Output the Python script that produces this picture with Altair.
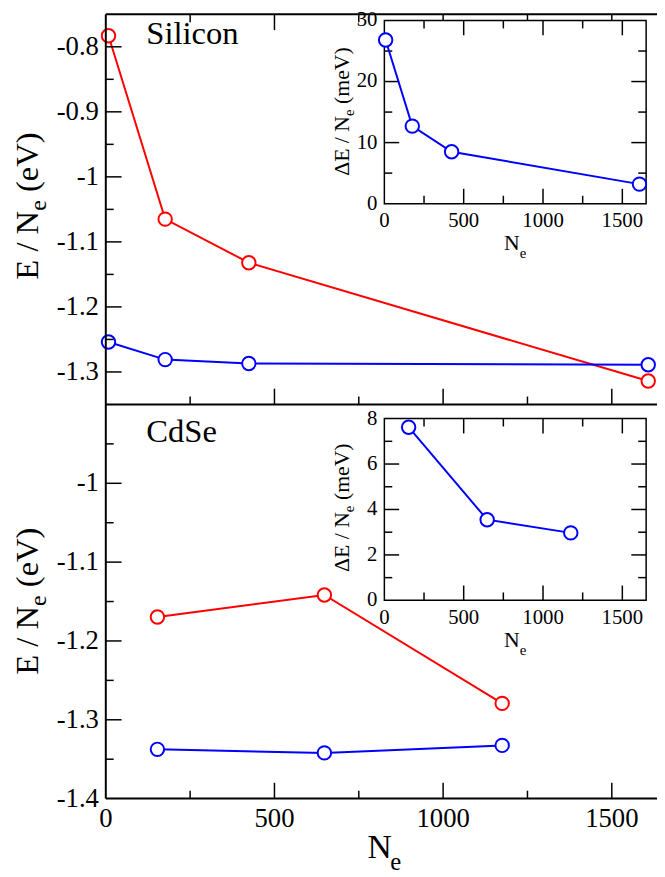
import altair as alt
import pandas as pd

FONT = "Liberation Serif"
RED = "#ff0000"
BLUE = "#0000ff"

# ---------------- data ----------------
si_ne = [8, 176, 424, 1608]
si_red = [-0.783, -1.065, -1.132, -1.314]
si_blue = [-1.254, -1.281, -1.287, -1.289]
si_dE = [26.8, 12.7, 8.5, 3.2]

cdse_ne = [153, 648, 1175]
cdse_red = [-1.1696, -1.1417, -1.2792]
cdse_blue = [-1.3375, -1.342, -1.3325]
cdse_dE = [7.62, 3.55, 2.97]

x_major = [500, 1000, 1500]
x_minor = [250, 750, 1250]
top_y_major = [-0.8, -0.9, -1.0, -1.1, -1.2, -1.3]
top_y_minor = [-0.85, -0.95, -1.05, -1.15, -1.25]
bot_y_major = [-1.0, -1.1, -1.2, -1.3]
bot_y_minor = [-0.95, -1.05, -1.15, -1.25, -1.35]
x_labels = [0, 500, 1000, 1500]
top_y_labels = [-0.8, -0.9, -1.0, -1.1, -1.2, -1.3]
bot_y_labels = [-1.0, -1.1, -1.2, -1.3, -1.4]

ins_x_major = [500, 1000, 1500]
ins_x_minor = [250, 750, 1250]
ins1_y_major = [10, 20]
ins1_y_minor = [5, 15, 25]
ins1_y_labels = [0, 10, 20, 30]
ins2_y_major = [2, 4, 6]
ins2_y_minor = [1, 3, 5, 7]
ins2_y_labels = [0, 2, 4, 6, 8]
ins_x_labels = [0, 500, 1000, 1500]

# ---------------- geometry (plot-area pixels) ----------------
W, H = 558, 795
TOP_Y0, DIV_Y, BOT_Y = 1, 396, 795
I_X0, I_X1 = 282, 547
I1_Y0, I1_Y1 = 7.3, 192.7
I2_Y0, I2_Y1 = 410.3, 594.3
MAJ, MIN = 16, 8
IMAJ, IMIN = 15, 8


def sc(domain, rng):
    return alt.Scale(domain=domain, range=rng, nice=False, zero=False, clamp=False)


xm = sc([0, 1634], [0, W])
y_top = sc([-1.35, -0.75], [DIV_Y, TOP_Y0])
y_bot = sc([-1.4, -0.9], [BOT_Y, DIV_Y])
xi = sc([0, 1650], [I_X0, I_X1])
yi1 = sc([0, 30], [I1_Y1, I1_Y0])
yi2 = sc([0, 8], [I2_Y1, I2_Y0])


def fmt(v):
    return f"{v:g}"


def series(ne, vals, color, xs, ys):
    df = pd.DataFrame({"n": ne, "v": vals})
    enc = dict(
        x=alt.X("n:Q", scale=xs, axis=None),
        y=alt.Y("v:Q", scale=ys, axis=None),
    )
    line = alt.Chart(df).mark_line(color=color, strokeWidth=2).encode(**enc)
    pts = alt.Chart(df).mark_point(
        shape="circle", size=185, filled=True, fill="white", stroke=color,
        strokeWidth=2, opacity=1,
    ).encode(**enc)
    return [line, pts]


def xticks(vals, xs, y0, y1, sw=1.5):
    return alt.Chart(pd.DataFrame({"v": vals})).mark_rule(color="black", strokeWidth=sw).encode(
        x=alt.X("v:Q", scale=xs, axis=None), y=alt.value(y0), y2=alt.value(y1)
    )


def yticks(vals, ys, x0, x1, sw=1.5):
    return alt.Chart(pd.DataFrame({"v": vals})).mark_rule(color="black", strokeWidth=sw).encode(
        y=alt.Y("v:Q", scale=ys, axis=None), x=alt.value(x0), x2=alt.value(x1)
    )


def xlabels(vals, xs, ybase, size):
    df = pd.DataFrame({"v": vals, "lab": [fmt(v) for v in vals]})
    return alt.Chart(df).mark_text(
        font=FONT, fontSize=size, color="black", align="center", baseline="alphabetic"
    ).encode(x=alt.X("v:Q", scale=xs, axis=None), y=alt.value(ybase), text="lab:N")


def ylabels(vals, ys, xright, size):
    df = pd.DataFrame({"v": vals, "lab": [fmt(v) for v in vals]})
    return alt.Chart(df).mark_text(
        font=FONT, fontSize=size, color="black", align="right", baseline="middle"
    ).encode(y=alt.Y("v:Q", scale=ys, axis=None), x=alt.value(xright), text="lab:N")


def hline(x0, x1, y, sw):
    return alt.Chart(pd.DataFrame({"a": [0]})).mark_rule(color="black", strokeWidth=sw).encode(
        x=alt.value(x0), x2=alt.value(x1), y=alt.value(y)
    )


def vline(x, y0, y1, sw):
    return alt.Chart(pd.DataFrame({"a": [0]})).mark_rule(color="black", strokeWidth=sw).encode(
        x=alt.value(x), y=alt.value(y0), y2=alt.value(y1)
    )


def txt(s, x, y, size, angle=0, align="left", baseline="alphabetic"):
    return alt.Chart(pd.DataFrame({"t": [s]})).mark_text(
        font=FONT, fontSize=size, color="black", angle=angle, align=align, baseline=baseline
    ).encode(x=alt.value(x), y=alt.value(y), text="t:N")


def inset_box(y0, y1):
    return alt.Chart(pd.DataFrame({"a": [0]})).mark_rect(
        fill="white", stroke="black", strokeWidth=1.5
    ).encode(x=alt.value(I_X0), x2=alt.value(I_X1), y=alt.value(y0), y2=alt.value(y1))


layers = []
# main data
layers += series(si_ne, si_red, RED, xm, y_top)
layers += series(si_ne, si_blue, BLUE, xm, y_top)
layers += series(cdse_ne, cdse_red, RED, xm, y_bot)
layers += series(cdse_ne, cdse_blue, BLUE, xm, y_bot)

# main frame
layers.append(vline(0, TOP_Y0, BOT_Y, 2))
layers.append(hline(0, W, TOP_Y0, 2))
layers.append(hline(0, W, DIV_Y, 2))
layers.append(hline(0, W, BOT_Y, 2))

# main x ticks + labels
layers.append(xticks(x_major, xm, TOP_Y0, TOP_Y0 + MAJ))
layers.append(xticks(x_minor, xm, TOP_Y0, TOP_Y0 + MIN))
layers.append(xticks(x_major, xm, DIV_Y, DIV_Y - MAJ))
layers.append(xticks(x_minor, xm, DIV_Y, DIV_Y - MIN))
layers.append(xticks(x_major, xm, BOT_Y, BOT_Y - MAJ))
layers.append(xticks(x_minor, xm, BOT_Y, BOT_Y - MIN))
layers.append(xlabels(x_labels, xm, BOT_Y + 29, 27))
# main y ticks + labels
layers.append(yticks(top_y_major, y_top, 0, MAJ))
layers.append(yticks(top_y_minor, y_top, 0, MIN))
layers.append(ylabels(top_y_labels, y_top, -7, 27))
layers.append(yticks(bot_y_major, y_bot, 0, MAJ))
layers.append(yticks(bot_y_minor, y_bot, 0, MIN))
layers.append(ylabels(bot_y_labels, y_bot, -7, 27))


def inset(y0, y1, yscale, ymaj, ymin, ylabs, ne, dE):
    out = [inset_box(y0, y1)]
    out.append(xticks(ins_x_major, xi, y1, y1 - IMAJ))
    out.append(xticks(ins_x_minor, xi, y1, y1 - IMIN))
    out.append(xticks(ins_x_major, xi, y0, y0 + IMAJ))
    out.append(xticks(ins_x_minor, xi, y0, y0 + IMIN))
    out.append(yticks(ymaj, yscale, I_X0, I_X0 + IMAJ))
    out.append(yticks(ymin, yscale, I_X0, I_X0 + IMIN))
    out.append(yticks(ymaj, yscale, I_X1, I_X1 - IMAJ))
    out.append(yticks(ymin, yscale, I_X1, I_X1 - IMIN))
    out.append(xlabels(ins_x_labels, xi, y1 + 24, 21))
    out.append(ylabels(ylabs, yscale, I_X0 - 7, 21))
    out += series(ne, dE, BLUE, xi, yscale)
    return out


layers += inset(I1_Y0, I1_Y1, yi1, ins1_y_major, ins1_y_minor, ins1_y_labels, si_ne, si_dE)
layers += inset(I2_Y0, I2_Y1, yi2, ins2_y_major, ins2_y_minor, ins2_y_labels, cdse_ne, cdse_dE)

# panel labels
layers.append(txt("Silicon", 41, 31, 33))
layers.append(txt("CdSe", 41, 434, 33))

# main x title
layers.append(txt("N", 265, 855, 34))
layers.append(txt("e", 288, 867, 25))

# main y titles (rotated, composed with subscript)
for e_anchor in (200, 600):
    layers.append(txt("E / N", -69, e_anchor, 33, angle=270, align="right"))
    layers.append(txt("e", -61, e_anchor, 24, angle=270, align="left"))
    layers.append(txt("(eV)", -69, e_anchor - 10.7 - 8.3, 33, angle=270, align="left"))

# inset x titles
layers.append(txt("N", 403, 240, 22))
layers.append(txt("e", 419, 248, 15))
layers.append(txt("N", 403, 642, 22))
layers.append(txt("e", 419, 650, 15))

# inset y titles
for e_anchor in (104, 505):
    layers.append(txt("\u0394E / N", 246, e_anchor, 22, angle=270, align="right"))
    layers.append(txt("e", 251, e_anchor, 15, angle=270, align="left"))
    layers.append(txt("(meV)", 246, e_anchor - 6.7 - 5.5, 22, angle=270, align="left"))

chart = alt.layer(*layers).resolve_scale(
    x="independent", y="independent"
).properties(
    width=W, height=H,
    autosize=alt.AutoSizeParams(type="none"),
    padding={"left": 99, "top": 0, "right": 0, "bottom": 74},
    background="white",
).configure_view(stroke=None)

chart.save("out.html", embed_options={"renderer": "svg", "actions": False})
